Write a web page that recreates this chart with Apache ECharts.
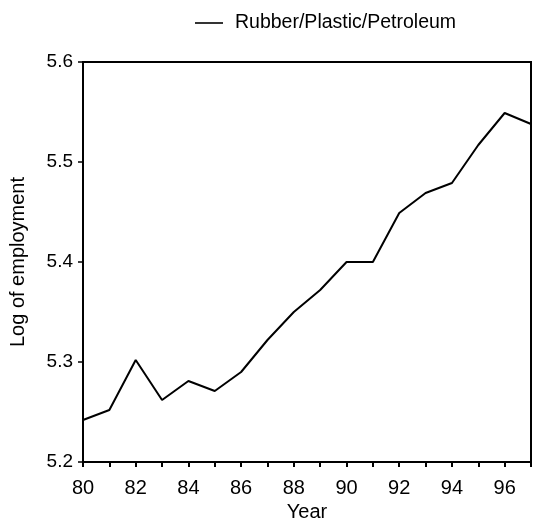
<!DOCTYPE html>
<html>
<head>
<meta charset="utf-8">
<script src="https://cdn.jsdelivr.net/npm/echarts@6/dist/echarts.min.js"></script>
<style>
  html, body { margin: 0; padding: 0; background: #fff; }
  #chart { width: 535px; height: 524px; }
</style>
</head>
<body>
<div id="chart"></div>
<script>
// Years (two-digit) and log employment for the sector
const years = [80, 81, 82, 83, 84, 85, 86, 87, 88, 89, 90, 91, 92, 93, 94, 95, 96, 97];
const logEmployment = [5.242, 5.252, 5.302, 5.262, 5.281, 5.271, 5.290, 5.322, 5.350, 5.372, 5.400, 5.400, 5.449, 5.469, 5.479, 5.517, 5.549, 5.538];
const seriesName = 'Rubber/Plastic/Petroleum';

const font = '"Liberation Sans", Arial, sans-serif';
const chart = echarts.init(document.getElementById('chart'));

chart.setOption({
  animation: false,
  backgroundColor: '#fff',
  legend: {
    top: 8,
    left: 190,
    itemWidth: 28,
    itemHeight: 20,
    textStyle: { fontFamily: font, fontSize: 19.5, color: '#000', padding: [0, 0, 0, 7] },
    data: [{ name: seriesName, icon: 'path://M0,0H28V1.6H0Z', itemStyle: { color: '#000' } }]
  },
  grid: {
    left: 83, right: 4, top: 62, bottom: 62,
    outerBoundsMode: 'none',
    containLabel: false,
    show: true, borderColor: '#000', borderWidth: 2
  },
  xAxis: {
    type: 'value',
    min: 80, max: 97, interval: 1,
    name: 'Year',
    nameLocation: 'middle',
    nameGap: 36,
    nameTextStyle: { fontFamily: font, fontSize: 20, color: '#000' },
    axisLine: { lineStyle: { color: '#000', width: 2 } },
    axisTick: { inside: false, length: 5, lineStyle: { color: '#000', width: 2 } },
    axisLabel: {
      fontFamily: font, fontSize: 20, color: '#000', margin: 16,
      formatter: v => (v % 2 === 0 ? String(v) : '')
    },
    splitLine: { show: false }
  },
  yAxis: {
    type: 'value',
    min: 5.2, max: 5.6, interval: 0.1,
    name: 'Log of employment',
    nameLocation: 'middle',
    nameGap: 55,
    nameRotate: 90,
    nameTextStyle: { fontFamily: font, fontSize: 20, color: '#000' },
    axisLine: { lineStyle: { color: '#000', width: 2 } },
    axisTick: { inside: false, length: 5, lineStyle: { color: '#000', width: 1.5 } },
    axisLabel: {
      fontFamily: font, fontSize: 19, color: '#000', margin: 10,
      formatter: v => v.toFixed(1)
    },
    splitLine: { show: false }
  },
  series: [{
    name: seriesName,
    type: 'line',
    data: years.map((y, i) => [y, logEmployment[i]]),
    symbol: 'none',
    color: '#000',
    lineStyle: { color: '#000', width: 2 }
  }]
});
</script>
</body>
</html>
